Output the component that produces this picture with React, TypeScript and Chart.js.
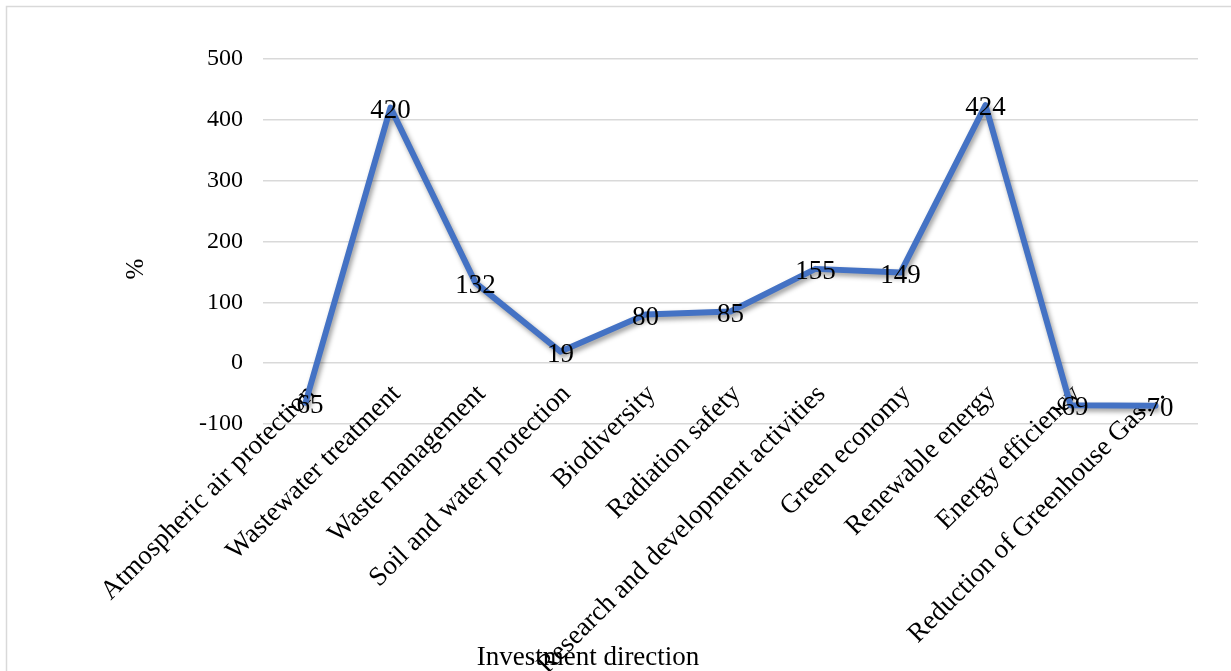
import { useEffect, useRef } from "react";
import { Chart, registerables } from "chart.js";

Chart.register(...registerables);

const categories = [
  "Atmospheric air protection",
  "Wastewater treatment",
  "Waste management",
  "Soil and water protection",
  "Biodiversity",
  "Radiation safety",
  "Research and development activities",
  "Green economy",
  "Renewable energy",
  "Energy efficiency",
  "Reduction of Greenhouse Gas…",
];
const values = [-65, 420, 132, 19, 80, 85, 155, 149, 424, -69, -70];
const yMin = -100;
const yMax = 500;
const yStep = 100;
const xTitle = "Investment direction";
const yTitle = "%";

const FONT = "'Liberation Serif', 'Times New Roman', serif";

export default function App() {
  const ref = useRef<HTMLCanvasElement | null>(null);

  useEffect(() => {
    if (!ref.current) return;
    const decor = {
      id: "decor",
      beforeDraw(chart: any) {
        const ctx = chart.ctx;
        ctx.save();
        ctx.strokeStyle = "#d9d9d9";
        ctx.lineWidth = 1.5;
        ctx.strokeRect(6.5, 6.5, 1240, 700);
        ctx.restore();
      },
      beforeDatasetsDraw(chart: any) {
        const ctx = chart.ctx;
        ctx.save();
        ctx.shadowColor = "rgba(0,0,0,0.4)";
        ctx.shadowBlur = 5;
        ctx.shadowOffsetX = 2;
        ctx.shadowOffsetY = 3;
      },
      afterDatasetsDraw(chart: any) {
        const ctx = chart.ctx;
        ctx.restore();
        ctx.save();
        ctx.fillStyle = "#000";
        ctx.font = `27px ${FONT}`;
        ctx.textAlign = "center";
        ctx.textBaseline = "middle";
        const meta = chart.getDatasetMeta(0);
        meta.data.forEach((pt: any, i: number) => {
          ctx.fillText(String(values[i]), pt.x, pt.y + 3);
        });
        // axis titles
        ctx.font = `27px ${FONT}`;
        ctx.textBaseline = "alphabetic";
        ctx.fillText(xTitle, 588, 665);
        ctx.save();
        ctx.translate(136, 269);
        ctx.rotate(-Math.PI / 2);
        ctx.font = `25px ${FONT}`;
        ctx.textBaseline = "middle";
        ctx.fillText(yTitle, 0, 0);
        ctx.restore();
        ctx.restore();
      },
    };

    const chart = new Chart(ref.current, {
      type: "line",
      data: {
        labels: categories,
        datasets: [
          {
            data: values,
            borderColor: "#4472C4",
            borderWidth: 6,
            pointRadius: 0,
            pointHoverRadius: 0,
            tension: 0,
            fill: false,
            borderJoinStyle: "round",
            borderCapStyle: "round",
          },
        ],
      },
      options: {
        responsive: false,
        animation: false,
        devicePixelRatio: 1,
        layout: { padding: { top: 59, right: 33, left: 0, bottom: 0 } },
        plugins: {
          legend: { display: false },
          tooltip: { enabled: false },
          title: { display: false },
        },
        scales: {
          x: {
            offset: true,
            grid: { display: false, drawTicks: false },
            border: { display: false },
            ticks: {
              autoSkip: false,
              maxRotation: 45,
              minRotation: 45,
              padding: -34,
              labelOffset: 6,
              color: "#000",
              font: { family: FONT, size: 27, lineHeight: 0 },
            },
            afterFit(scale: any) {
              scale.height = 671 - 424;
              scale._computeLabelArea = () => undefined;
            },
          },
          y: {
            min: yMin,
            max: yMax,
            ticks: {
              stepSize: yStep,
              padding: 20,
              color: "#000",
              font: { family: FONT, size: 24 },
            },
            grid: { color: "#d9d9d9", lineWidth: 1.5, drawTicks: false },
            border: { display: false },
            afterFit(scale: any) {
              scale.width = 263;
            },
          },
        },
      },
      plugins: [decor],
    });
    return () => chart.destroy();
  }, []);

  return (
    <div style={{ position: "fixed", left: 0, top: 0, width: 1231, height: 671, background: "#fff" }}>
      <canvas ref={ref} width={1231} height={671} style={{ width: 1231, height: 671, display: "block" }} />
    </div>
  );
}
